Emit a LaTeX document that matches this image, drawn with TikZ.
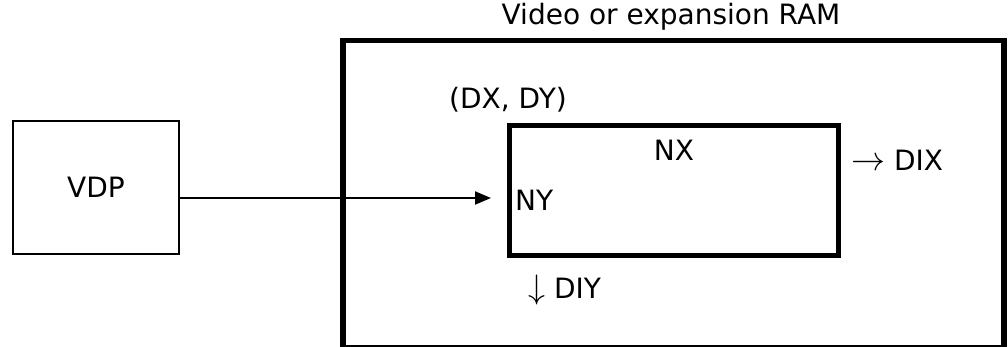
\RequirePackage{fix-cm}
\documentclass[tikz,border=0pt]{standalone}
\usepackage{fontspec}
\setmainfont{DejaVu Sans}
\usetikzlibrary{arrows.meta}

\newcommand{\bigarrow}[1]{{\fontsize{34}{34}\selectfont$#1$}}

\begin{document}
\begin{tikzpicture}[
  x=1pt, y=-1pt,
  unit/.style={draw, line width=2pt, inner sep=0pt},
  ram/.style={draw, line width=5.5pt, inner sep=0pt},
  window/.style={draw, line width=5pt, inner sep=0pt},
  lbl/.style={inner sep=0pt, font=\fontsize{28}{32}\selectfont},
  feed/.style={line width=2pt, -{Triangle[length=16pt, width=13pt]}},
]
  \fill[white] (0,0) rectangle (1008,347);
  \useasboundingbox (0,0) rectangle (1008,347);

  % Boxes
  \node[unit, minimum width=166pt, minimum height=133pt, font=\fontsize{28}{32}\selectfont]
    (vdp) at (96,187.5) {VDP};
  \node[ram, minimum width=661pt, minimum height=307.5pt] (mem) at (673.5,194.25) {};
  \node[window, minimum width=329pt, minimum height=130pt] (area) at (674,190.5) {};

  % Transfer
  \coordinate (tip) at (491,198);
  \draw[feed] (vdp.east |- tip) -- (tip);

  % Labels
  \node[lbl] (title) at (671,17) {Video or expansion RAM};
  \node[lbl] (start) at (508,100) {(DX, DY)};
  \node[lbl] (nx) at (674,150) {NX};
  \node[lbl, anchor=west] (ny) at (515,200) {NY};
  \node[lbl, anchor=west] (dix) at (851,160) {\bigarrow{\rightarrow} DIX};
  \node[lbl, anchor=west] (diy) at (528,290) {\bigarrow{\downarrow} DIY};
\end{tikzpicture}
\end{document}
